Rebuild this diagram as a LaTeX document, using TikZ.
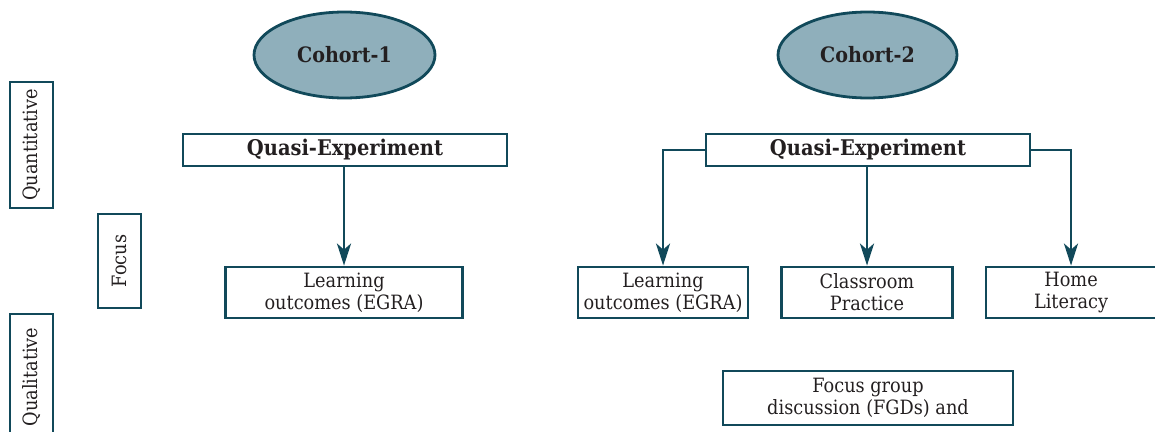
\documentclass[tikz,border=0pt]{standalone}
\usepackage{fontspec}
\setmainfont{DejaVu Serif Condensed}
\usetikzlibrary{shapes.geometric,arrows.meta}
\definecolor{edge}{HTML}{11495A}
\definecolor{cfill}{HTML}{8FAFBB}
\definecolor{ink}{HTML}{231F20}
\begin{document}
\begin{tikzpicture}[x=1pt,y=-1pt,
  box/.style={draw=edge,line width=2.8pt,text=ink,inner sep=0pt,align=center,
    font=\fontsize{19.7}{22}\selectfont},
  sidebox/.style={box,rotate=90,minimum width=#1,minimum height=43pt},
  cohort/.style={ellipse,draw=edge,line width=2.8pt,fill=cfill,text=ink,inner sep=0pt,
    minimum height=86pt,font=\bfseries\fontsize{21.2}{24}\selectfont},
  qebox/.style={box,minimum width=324pt,minimum height=32pt,font=\bfseries\fontsize{21.6}{24}\selectfont},
  outbox/.style={box,minimum width=#1,minimum height=51pt},
  arr/.style={draw=edge,line width=2.8pt,-{Stealth[length=22pt,width=14pt,inset=6pt]}}]
\useasboundingbox (0,0) rectangle (1155,431);
\node[sidebox=126pt] (qn) at (31.5,145) {Quantitative};
\node[sidebox=94pt] (fc) at (119.5,261) {Focus};
\node[sidebox=126pt] (ql) at (31.5,377) {Qualitative};
\node[cohort,minimum width=181pt] (c1) at (344.5,55) {Cohort-1};
\node[cohort,minimum width=179pt] (c2) at (867.5,55) {Cohort-2};
\node[qebox] (q1) at (345,150) {Quasi-Experiment};
\node[qebox] (q2) at (868,150) {Quasi-Experiment};
\node[outbox=237pt] (l1) at (344,292.5) {Learning\\outcomes (EGRA)};
\node[outbox=170pt] (l2) at (663,292.5) {Learning\\outcomes (EGRA)};
\node[outbox=171pt] (cp) at (867,292.5) {Classroom\\Practice};
\node[outbox=170pt] (hl) at (1071,292.5) {Home\\Literacy};
\node[outbox=290pt,minimum height=54pt] (fg) at (868,398) {Focus group\\discussion (FGDs) and};
\draw[arr] (q1.south -| l1.north) -- (l1.north);
\draw[arr] (q2.west) -| (l2.north);
\draw[arr] (q2.south -| cp.north) -- (cp.north);
\draw[arr] (q2.east) -| (hl.north);
\end{tikzpicture}
\end{document}
